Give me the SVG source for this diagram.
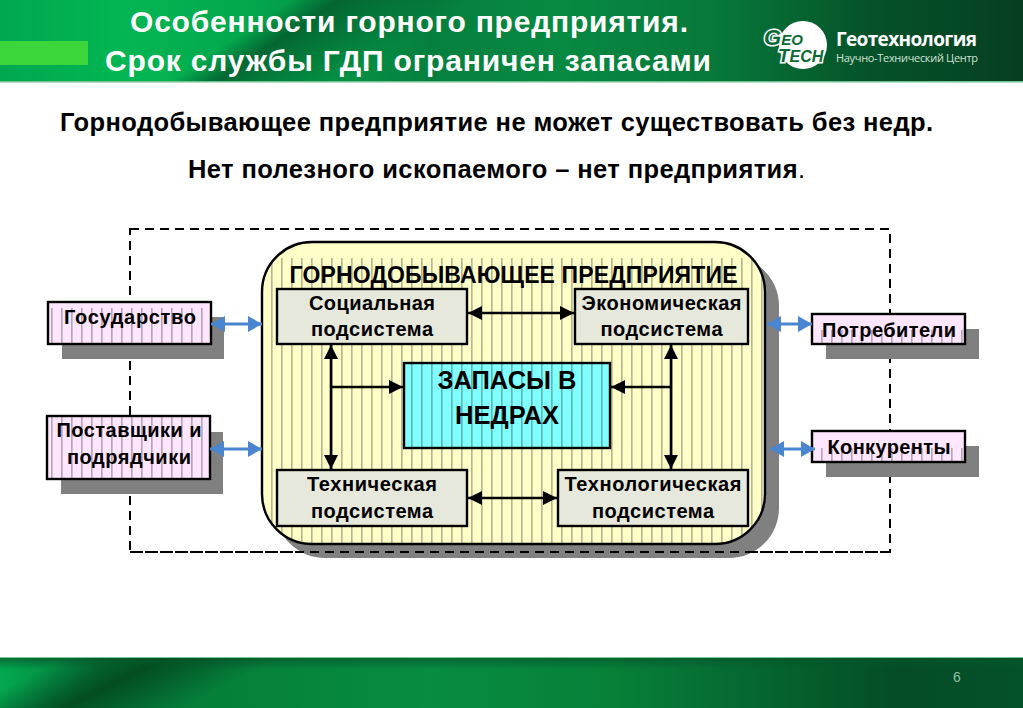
<svg xmlns="http://www.w3.org/2000/svg" width="1023" height="708" viewBox="0 0 1023 708">
<defs>
<linearGradient id="hdr" x1="0" x2="1" y1="0" y2="0">
<stop offset="0" stop-color="#00a84e"/><stop offset="0.12" stop-color="#03b653"/><stop offset="0.24" stop-color="#03a84c"/><stop offset="0.42" stop-color="#067f3e"/><stop offset="0.55" stop-color="#078a42"/><stop offset="0.7" stop-color="#07783a"/><stop offset="0.85" stop-color="#05522a"/><stop offset="1" stop-color="#063f20"/>
</linearGradient>
<linearGradient id="hdrd" gradientUnits="userSpaceOnUse" x1="0" y1="0" x2="168" y2="249">
<stop offset="0.54" stop-color="#04602f" stop-opacity="0"/><stop offset="0.63" stop-color="#04602f" stop-opacity="0.9"/><stop offset="0.87" stop-color="#04602f" stop-opacity="0"/>
</linearGradient>
<linearGradient id="ftr" x1="0" x2="1" y1="0" y2="0">
<stop offset="0" stop-color="#03a84f"/><stop offset="0.1" stop-color="#057a3a"/><stop offset="0.22" stop-color="#058039"/><stop offset="0.42" stop-color="#078c42"/><stop offset="0.6" stop-color="#078038"/><stop offset="0.75" stop-color="#056430"/><stop offset="0.88" stop-color="#044c26"/><stop offset="1" stop-color="#04522a"/>
</linearGradient>
<linearGradient id="ftrd" gradientUnits="userSpaceOnUse" x1="0" y1="657" x2="72" y2="799">
<stop offset="0.19" stop-color="#034a22" stop-opacity="0"/><stop offset="0.47" stop-color="#034a22" stop-opacity="0.95"/><stop offset="0.8" stop-color="#034a22" stop-opacity="0"/>
</linearGradient>
<linearGradient id="ftrv" x1="0" x2="0" y1="0" y2="1">
<stop offset="0" stop-color="#04562a" stop-opacity="0.75"/><stop offset="0.25" stop-color="#04562a" stop-opacity="0"/>
</linearGradient>
<pattern id="hatch" patternUnits="userSpaceOnUse" x="1.4" y="0" width="10" height="20">
<line x1="0.5" y1="0" x2="0.5" y2="20" stroke="#222" stroke-width="1" stroke-opacity="0.55"/>
</pattern>
<clipPath id="mainclip"><rect x="262" y="242" width="503" height="302" rx="50"/></clipPath>
<marker id="blue" markerUnits="userSpaceOnUse" markerWidth="16" markerHeight="18" refX="14" refY="8" orient="auto-start-reverse"><path d="M0 0L14 8L0 16Z" fill="#4a86d0"/></marker>
<marker id="blk" markerUnits="userSpaceOnUse" markerWidth="16" markerHeight="16" refX="14" refY="7" orient="auto-start-reverse"><path d="M0 0L14 7L0 14Z" fill="#000"/></marker>
<style>
text{font-family:"Liberation Sans",Arial,sans-serif;font-weight:bold;text-anchor:middle;fill:#000}
.t{fill:#fff;font-size:30px}
.s{font-size:25.5px}
.b{stroke:#000;stroke-width:2.4}
.g{fill:#e6e8dc}
.p{fill:#ffe6ff}
.h{fill:url(#hatch)}
.sh{fill:#808080}
.n{font-size:20px}
.c{stroke:#000;stroke-width:2.6;fill:none;marker-start:url(#blk);marker-end:url(#blk)}
.c1{stroke:#000;stroke-width:2.6;fill:none;marker-end:url(#blk)}
.a{stroke:#4a86d0;stroke-width:3;fill:none;marker-start:url(#blue);marker-end:url(#blue)}
.lg{font-style:italic;font-weight:bold;fill:#0b6a34;text-anchor:start;stroke:#fff;stroke-width:3;paint-order:stroke}
</style>
</defs>
<rect width="1023" height="708" fill="#fff"/>
<g id="header">
<rect width="1023" height="81" fill="url(#hdr)"/>
<rect width="1023" height="81" fill="url(#hdrd)"/>
<rect y="81" width="1023" height="1.5" fill="#6fbf8f"/>
<rect y="41" width="88" height="24" fill="#3dd63a"/>
<text class="t" x="409" y="32" textLength="558">Особенности горного предприятия.</text>
<text class="t" x="408" y="71" textLength="606">Срок службы ГДП ограничен запасами</text>
</g>
<g id="logo">
<circle cx="803" cy="45" r="24" fill="#fff"/>
<text class="lg" x="764" y="45" style="font-size:15px"><tspan style="font-size:22px">G</tspan>EO</text>
<text class="lg" x="778" y="62" style="font-size:16px"><tspan style="font-size:19px">T</tspan>ECH</text>
<text x="906.500" y="46" style="font-size:19px;fill:#fff;font-family:'Open Sans','Liberation Sans',sans-serif" textLength="141">Геотехнология</text>
<text x="907" y="62" style="font-size:11px;font-weight:normal;fill:#cfe3d6;font-family:'Open Sans','Liberation Sans',sans-serif" textLength="142">Научно-Технический Центр</text>
</g>
<g id="intro">
<text class="s" x="496.500" y="131" textLength="873">Горнодобывающее предприятие не может существовать без недр.</text>
<text class="s" x="496.500" y="178" textLength="617">Нет полезного ископаемого – нет предприятия<tspan style="font-weight:normal">.</tspan></text>
</g>
<g id="boundary">
<rect x="130" y="229" width="760" height="323" fill="none" stroke="#000" stroke-width="2" stroke-dasharray="9 6"/>
</g>
<g id="enterprise">
<rect class="sh" x="275" y="256" width="504" height="302" rx="50"/>
<path d="M130 552H890" fill="none" stroke="#000" stroke-width="2" stroke-dasharray="9 6"/>
<rect x="262" y="242" width="503" height="302" rx="50" fill="#ffffc8"/>
<rect class="h" x="262" y="258" width="503" height="286" clip-path="url(#mainclip)"/>
<rect x="262" y="242" width="503" height="302" rx="50" fill="none" stroke="#000" stroke-width="2.4"/>
<text x="513.500" y="283" style="font-size:23px" textLength="448">ГОРНОДОБЫВАЮЩЕЕ ПРЕДПРИЯТИЕ</text>
</g>
<g id="gosudarstvo">
<rect class="sh" x="62" y="317" width="162" height="42"/>
<rect class="p b" x="48" y="302" width="163" height="42"/>
<rect class="h" x="49" y="308" width="161" height="35"/>
<text class="n" x="130" y="324" textLength="132">Государство</text>
</g>
<g id="postavshchiki">
<rect class="sh" x="61" y="432" width="162" height="62"/>
<rect class="p b" x="47" y="416" width="163" height="63"/>
<rect class="h" x="48" y="417" width="161" height="61"/>
<text class="n" x="129" y="437" textLength="145">Поставщики и</text>
<text class="n" x="129" y="464" textLength="124">подрядчики</text>
</g>
<g id="potrebiteli">
<rect class="sh" x="826" y="329" width="153" height="30"/>
<rect class="p b" x="812" y="314" width="153" height="30"/>
<rect class="h" x="813" y="330" width="151" height="13"/>
<text class="n" x="889" y="337" textLength="134">Потребители</text>
</g>
<g id="konkurenty">
<rect class="sh" x="826" y="446" width="153" height="31"/>
<rect class="p b" x="812" y="431" width="153" height="31"/>
<rect class="h" x="813" y="448" width="151" height="13"/>
<text class="n" x="889" y="454" textLength="123">Конкуренты</text>
</g>
<g id="social">
<rect class="g b" x="277" y="289" width="190" height="55"/>
<text class="n" x="372" y="310" textLength="126">Социальная</text>
<text class="n" x="372" y="336" textLength="122">подсистема</text>
</g>
<g id="economic">
<rect class="g b" x="575" y="289" width="173" height="55"/>
<text class="n" x="661.500" y="310" textLength="160">Экономическая</text>
<text class="n" x="661.500" y="336" textLength="122">подсистема</text>
</g>
<g id="technical">
<rect class="g b" x="277" y="470" width="190" height="56"/>
<text class="n" x="372" y="491" textLength="130">Техническая</text>
<text class="n" x="372" y="518" textLength="122">подсистема</text>
</g>
<g id="technological">
<rect class="g b" x="558" y="470" width="190" height="56"/>
<text class="n" x="653" y="491" textLength="177">Технологическая</text>
<text class="n" x="653" y="518" textLength="122">подсистема</text>
</g>
<g id="reserves">
<rect x="404" y="363" width="206" height="85" fill="#80ffff"/>
<rect class="h" x="404" y="363" width="206" height="85"/>
<rect x="404" y="363" width="206" height="85" fill="none" stroke="#000" stroke-width="2.4"/>
<text x="507" y="389" style="font-size:25.500px" textLength="139">ЗАПАСЫ В</text>
<text x="507" y="424" style="font-size:25.500px" textLength="104">НЕДРАХ</text>
</g>
<g id="connectors">
<path class="c" d="M468 313H574"/>
<path class="c" d="M468 498H557"/>
<path class="c" d="M331 345V469"/>
<path class="c" d="M671 345V469"/>
<path class="c1" d="M331 387H403"/>
<path class="c1" d="M671 387H611"/>
<path class="a" d="M211 324H262"/>
<path class="a" d="M210 449H262"/>
<path class="a" d="M767 324H812"/>
<path class="a" d="M770 449H815"/>
</g>
<g id="footer">
<rect y="657" width="1023" height="51" fill="url(#ftr)"/>
<rect y="657" width="1023" height="51" fill="url(#ftrd)"/>
<rect y="657" width="1023" height="51" fill="url(#ftrv)"/>
<rect y="657" width="1023" height="1" fill="#7fc79a"/>
<text x="957" y="682" style="font-size:14px;font-weight:normal;fill:#8fbfa3">6</text>
</g>
</svg>
